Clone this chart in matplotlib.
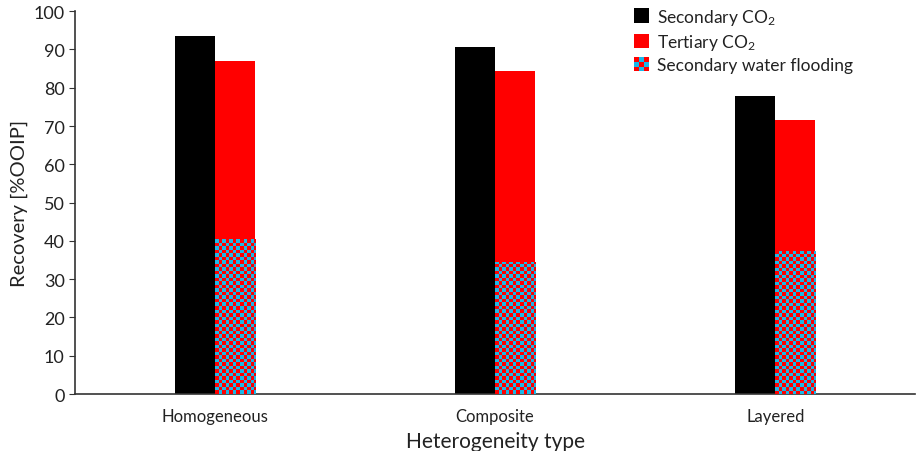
import matplotlib
matplotlib.use("Agg")
import matplotlib.pyplot as plt
import numpy as np
from matplotlib.patches import Rectangle
from matplotlib.legend_handler import HandlerBase
from matplotlib.colors import ListedColormap

categories = ["Homogeneous", "Composite", "Layered"]
secondary_co2 = [93.5, 90.6, 77.8]
tertiary_co2 = [87.0, 84.3, 71.5]
secondary_water = [40.5, 34.5, 37.3]
series_labels = ["Secondary CO$_2$", "Tertiary CO$_2$", "Secondary water flooding"]

plt.rcParams['font.family'] = ['Lato', 'DejaVu Sans']
plt.rcParams['mathtext.fontset'] = 'custom'
plt.rcParams['mathtext.rm'] = 'Lato'
plt.rcParams['mathtext.it'] = 'Lato:italic'

fig = plt.figure(figsize=(9.18, 4.52), dpi=100)
ax = fig.add_axes([0.0817, 0.126, 0.9153, 0.847])

x = np.arange(len(categories))
w = 0.143
RED = "#ff0000"
CYAN = "#1ab8e8"

b1 = ax.bar(x - w/2, secondary_co2, w, color="black", zorder=2)
b2 = ax.bar(x + w/2, tertiary_co2, w, color=RED, zorder=2)
b3 = ax.bar(x + w/2, secondary_water, w, color=RED, zorder=3)

ax.set_xlim(-0.5, len(categories) - 0.5)
ax.set_ylim(0, 100)

# checkerboard texture clipped to water-flooding bars
n = 400
checker = (np.add.outer(np.arange(n), np.arange(n)) % 2).astype(float)
cmap = ListedColormap([RED, CYAN])
xr = ax.get_xlim()[1] - ax.get_xlim()[0]
px_per_x = 840 / xr
px_per_y = 383 / 100
cell = 3.5
for rect in b3:
    x0, y0 = rect.get_x(), rect.get_y()
    im = ax.imshow(checker, cmap=cmap, interpolation="nearest", origin="lower",
                   extent=[x0, x0 + n * cell / px_per_x, y0, y0 + n * cell / px_per_y],
                   aspect="auto", zorder=4)
    im.set_clip_path(rect)
ax.set_xlim(-0.5, len(categories) - 0.5)
ax.set_ylim(0, 100)

ax.set_xticks(x)
ax.set_xticklabels(categories, fontsize=12, color="#222222")
ax.tick_params(axis="x", length=0, pad=10)
ax.set_yticks(np.arange(0, 101, 10))
ax.tick_params(axis="y", labelsize=13, length=4, direction="out", color="#333333",
               labelcolor="#222222")
for s in ["top", "right"]:
    ax.spines[s].set_visible(False)
for s in ["left", "bottom"]:
    ax.spines[s].set_color("#333333")
    ax.spines[s].set_linewidth(1.2)
ax.set_ylabel("Recovery [%OOIP]", fontsize=14.5, color="#222222")
ax.set_xlabel("Heterogeneity type", fontsize=15, labelpad=5, color="#222222")


class CheckerHandler(HandlerBase):
    def create_artists(self, legend, orig_handle, xdescent, ydescent, width, height, fontsize, trans):
        arts = []
        s = height
        x0 = -xdescent + (width - s) / 2
        k = 3
        c = s / k
        for i in range(k):
            for j in range(k):
                col = CYAN if (i + j) % 2 else RED
                r = Rectangle((x0 + i * c, -ydescent + j * c), c, c,
                              facecolor=col, edgecolor="none", transform=trans)
                arts.append(r)
        return arts


class SquareHandler(HandlerBase):
    def create_artists(self, legend, orig_handle, xdescent, ydescent, width, height, fontsize, trans):
        s = height
        x0 = -xdescent + (width - s) / 2
        r = Rectangle((x0, -ydescent), s, s,
                      facecolor=orig_handle.get_facecolor(), edgecolor="none", transform=trans)
        return [r]


h1 = Rectangle((0, 0), 1, 1, facecolor="black")
h2 = Rectangle((0, 0), 1, 1, facecolor=RED)
h3 = Rectangle((0, 0), 1, 1, facecolor=RED)
leg = ax.legend([h1, h2, h3], series_labels, loc="upper left", bbox_to_anchor=(0.665, 1.012),
                frameon=False, fontsize=12.5, handlelength=0.9, handleheight=0.9,
                handletextpad=0.45, labelspacing=0.3, borderpad=0, borderaxespad=0,
                handler_map={h1: SquareHandler(), h2: SquareHandler(), h3: CheckerHandler()})
for t in leg.get_texts():
    t.set_color("#222222")

fig.savefig("out.png", dpi=100)
